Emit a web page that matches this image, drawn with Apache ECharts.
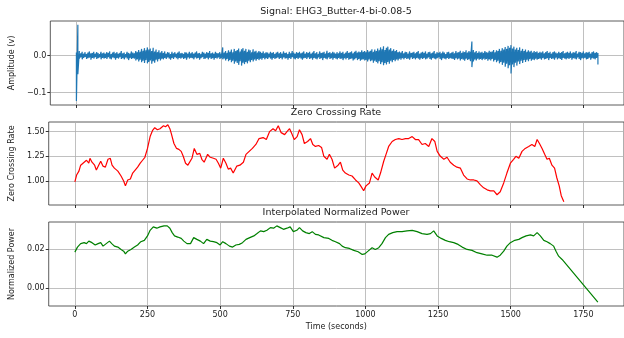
<!DOCTYPE html>
<html>
<head>
<meta charset="utf-8">
<script src="https://cdn.jsdelivr.net/npm/echarts@6/dist/echarts.min.js"></script>
<style>
  html, body { margin: 0; padding: 0; background: #fff; }
  #chart { width: 624px; height: 338px; }
</style>
</head>
<body>
<div id="chart"></div>
<script>
// signal envelope, one bin every 5 s, in millivolts (max and min of each bin)
const signalStep = 5;
const signalHigh = [
  8, 83, 12, 6, 10, 5, 9, 4, 8, 11, 6, 7, 10, 5, 9, 7, 4, 10, 6, 8,
  5, 9, 7, 11, 4, 8, 10, 6, 9, 5, 7, 12, 6, 8, 4, 10, 7, 5, 11, 8,
  6, 12, 9, 15, 10, 18, 13, 20, 14, 22, 16, 19, 12, 21, 11, 16, 9, 14, 8, 12,
  7, 11, 5, 9, 8, 4, 10, 6, 9, 5, 8, 11, 6, 7, 4, 9, 8, 5, 10, 6,
  9, 5, 8, 11, 6, 7, 4, 10, 8, 5, 9, 7, 12, 6, 8, 5, 10, 7, 6, 9,
  5, 22, 8, 12, 7, 14, 10, 16, 9, 18, 12, 15, 19, 11, 17, 20, 13, 18, 10, 16,
  14, 9, 17, 11, 13, 8, 12, 10, 7, 11, 6, 9, 8, 5, 10, 7, 9, 4, 8, 10,
  6, 9, 5, 11, 7, 8, 4, 10, 6, 12, 8, 5, 9, 7, 10, 6, 8, 11, 5, 9,
  7, 10, 5, 8, 12, 6, 9, 4, 11, 7, 8, 10, 5, 13, 7, 9, 6, 10, 8, 5,
  9, 6, 11, 7, 10, 5, 8, 12, 7, 9, 11, 6, 10, 13, 8, 11, 9, 14, 10, 12,
  9, 15, 11, 13, 17, 10, 16, 12, 19, 14, 22, 17, 25, 15, 21, 24, 16, 20, 13, 17,
  12, 15, 9, 11, 8, 12, 6, 10, 9, 5, 11, 7, 8, 10, 6, 9, 12, 5, 8, 10,
  7, 11, 5, 9, 10, 6, 8, 12, 5, 9, 7, 10, 6, 11, 8, 4, 9, 10, 6, 8,
  10, 6, 12, 8, 9, 13, 7, 11, 9, 14, 8, 12, 10, 38, 15, 9, 12, 7, 11, 8,
  10, 7, 12, 9, 8, 13, 10, 11, 15, 9, 14, 12, 18, 13, 20, 16, 23, 18, 26, 21,
  28, 19, 24, 16, 21, 15, 22, 13, 18, 12, 16, 10, 14, 11, 13, 8, 12, 9, 11, 7,
  10, 8, 11, 6, 9, 12, 7, 10, 5, 9, 11, 8, 6, 10, 7, 9, 12, 6, 8, 10,
  7, 11, 6, 9, 8, 12, 5, 10, 9, 7, 11, 6, 9, 8, 10, 5, 9, 11, 7, 9,
  7
];
const signalLow = [
  -122, -50, -8, -5, -10, -6, -4, -9, -7, -5, -11, -6, -8, -4, -9, -7, -5, -10, -6, -8,
  -6, -9, -4, -8, -10, -5, -7, -11, -6, -8, -4, -9, -7, -10, -5, -8, -12, -6, -9, -7,
  -8, -13, -10, -16, -11, -18, -14, -20, -12, -21, -17, -13, -22, -15, -19, -11, -16, -9, -13, -8,
  -10, -6, -9, -5, -8, -11, -6, -9, -4, -7, -10, -6, -8, -5, -9, -7, -11, -5, -8, -6,
  -7, -10, -5, -8, -6, -11, -7, -4, -9, -8, -6, -10, -5, -9, -7, -11, -6, -8, -5, -9,
  -7, -10, -8, -13, -9, -15, -12, -18, -14, -22, -16, -20, -25, -15, -27, -19, -23, -17, -21, -14,
  -18, -12, -16, -10, -14, -9, -12, -8, -11, -6, -10, -7, -9, -5, -8, -11, -6, -9, -7, -5,
  -9, -6, -10, -5, -8, -7, -11, -6, -9, -4, -8, -10, -6, -9, -5, -8, -11, -7, -6, -9,
  -5, -9, -7, -11, -6, -8, -10, -5, -9, -7, -12, -6, -8, -10, -5, -9, -7, -11, -6, -8,
  -10, -6, -9, -8, -12, -7, -10, -6, -11, -9, -8, -13, -10, -7, -12, -9, -14, -11, -10, -13,
  -12, -16, -10, -15, -13, -19, -14, -17, -21, -15, -23, -18, -26, -20, -24, -17, -22, -14, -18, -12,
  -15, -10, -13, -8, -11, -7, -10, -6, -9, -8, -11, -5, -9, -7, -10, -6, -8, -11, -7, -9,
  -6, -10, -8, -5, -9, -11, -6, -8, -10, -7, -5, -9, -12, -7, -8, -10, -6, -9, -7, -8,
  -9, -12, -7, -10, -8, -13, -9, -11, -14, -8, -12, -10, -15, -31, -16, -10, -13, -8, -11, -9,
  -12, -8, -11, -9, -14, -10, -13, -9, -16, -12, -18, -14, -21, -17, -25, -19, -30, -22, -34, -26,
  -48, -24, -31, -19, -27, -16, -23, -14, -20, -12, -17, -11, -15, -9, -14, -10, -12, -8, -11, -9,
  -8, -11, -6, -10, -9, -7, -12, -6, -9, -8, -11, -5, -10, -7, -9, -12, -6, -8, -10, -7,
  -9, -6, -11, -7, -8, -10, -5, -9, -12, -7, -8, -6, -10, -9, -5, -11, -7, -8, -10, -6,
  -24
];

const zcrTime = [
  0, 6, 14, 20, 28, 34, 40, 48, 52, 59, 68, 74, 82, 89, 97, 105, 114, 122, 128, 136,
  148, 159, 168, 174, 182, 191, 199, 205, 216, 225, 233, 241, 250, 259, 267, 275, 284, 293, 305, 312,
  320, 327, 332, 341, 350, 358, 366, 373, 381, 389, 395, 403, 411, 420, 430, 437, 445, 457, 466, 477,
  486, 494, 502, 511, 520, 528, 536, 545, 557, 568, 580, 589, 600, 611, 623, 634, 648, 659, 670, 682,
  691, 700, 710, 722, 730, 739, 748, 755, 765, 773, 782, 790, 801, 811, 819, 828, 839, 849, 857, 868,
  876, 885, 894, 906, 914, 922, 931, 943, 954, 966, 977, 986, 994, 1002, 1014, 1023, 1032, 1044, 1052, 1063,
  1071, 1080, 1092, 1103, 1115, 1126, 1138, 1149, 1161, 1172, 1183, 1195, 1206, 1218, 1229, 1239, 1247, 1258, 1270, 1281,
  1292, 1304, 1315, 1327, 1338, 1350, 1361, 1373, 1384, 1396, 1407, 1419, 1430, 1442, 1453, 1464, 1476, 1487, 1499, 1510,
  1518, 1528, 1539, 1550, 1562, 1573, 1583, 1591, 1599, 1608, 1617, 1625, 1633, 1642, 1651, 1659, 1667, 1674, 1683
];
const zcrValues = [
  0.99, 1.06, 1.10, 1.16, 1.18, 1.16, 1.21, 1.18, 1.23, 1.19, 1.16, 1.11, 1.16, 1.20, 1.15, 1.14, 1.22, 1.23, 1.16, 1.13,
  1.10, 1.05, 1.00, 0.95, 1.01, 1.02, 1.08, 1.06, 1.14, 1.18, 1.21, 1.24, 1.33, 1.45, 1.51, 1.54, 1.52, 1.53, 1.56, 1.55,
  1.57, 1.53, 1.48, 1.38, 1.33, 1.32, 1.30, 1.25, 1.18, 1.16, 1.15, 1.23, 1.33, 1.27, 1.28, 1.22, 1.19, 1.27, 1.24, 1.23,
  1.22, 1.18, 1.13, 1.23, 1.18, 1.12, 1.13, 1.08, 1.15, 1.16, 1.19, 1.27, 1.30, 1.33, 1.37, 1.43, 1.44, 1.42, 1.50, 1.53,
  1.51, 1.56, 1.49, 1.47, 1.50, 1.53, 1.47, 1.42, 1.45, 1.52, 1.47, 1.38, 1.40, 1.43, 1.37, 1.35, 1.36, 1.34, 1.25, 1.22,
  1.27, 1.22, 1.13, 1.16, 1.19, 1.11, 1.08, 1.06, 1.05, 1.01, 0.98, 0.94, 0.90, 0.95, 0.98, 1.08, 1.04, 1.01, 1.08, 1.20,
  1.27, 1.35, 1.40, 1.42, 1.43, 1.42, 1.43, 1.43, 1.45, 1.42, 1.42, 1.37, 1.38, 1.35, 1.43, 1.40, 1.30, 1.25, 1.22, 1.24,
  1.19, 1.16, 1.14, 1.13, 1.06, 1.02, 1.01, 1.01, 1.00, 0.96, 0.93, 0.91, 0.90, 0.90, 0.86, 0.89, 0.98, 1.08, 1.18, 1.22,
  1.25, 1.23, 1.30, 1.33, 1.35, 1.37, 1.35, 1.42, 1.38, 1.33, 1.27, 1.22, 1.23, 1.16, 1.13, 1.03, 0.95, 0.85, 0.79
];

const powerTime = [
  0, 9, 20, 32, 40, 48, 59, 70, 80, 89, 97, 108, 119, 127, 136, 148, 159, 168, 174, 182,
  193, 205, 216, 227, 239, 250, 259, 270, 282, 293, 307, 318, 327, 335, 343, 354, 366, 375, 386, 398,
  409, 420, 432, 443, 454, 466, 477, 489, 500, 509, 520, 532, 543, 554, 566, 577, 589, 602, 616, 627,
  639, 650, 661, 673, 684, 695, 707, 718, 730, 741, 752, 764, 773, 784, 795, 807, 817, 828, 839, 857,
  874, 885, 897, 911, 920, 931, 945, 960, 975, 989, 998, 1009, 1023, 1034, 1046, 1057, 1069, 1080, 1094, 1109,
  1126, 1143, 1161, 1178, 1195, 1212, 1224, 1235, 1247, 1261, 1275, 1289, 1304, 1319, 1333, 1350, 1367, 1384, 1401, 1419,
  1436, 1453, 1464, 1476, 1487, 1499, 1514, 1528, 1539, 1553, 1568, 1579, 1591, 1602, 1614, 1625, 1636, 1648, 1656, 1665,
  1677, 1800
];
const powerValues = [
  0.0186, 0.0212, 0.0230, 0.0235, 0.0230, 0.0243, 0.0235, 0.0223, 0.0230, 0.0235, 0.0217, 0.0230, 0.0243, 0.0230, 0.0217, 0.0212, 0.0200, 0.0191, 0.0177, 0.0191,
  0.0200, 0.0212, 0.0223, 0.0240, 0.0247, 0.0270, 0.0299, 0.0317, 0.0310, 0.0317, 0.0322, 0.0322, 0.0310, 0.0287, 0.0270, 0.0264, 0.0257, 0.0243, 0.0230, 0.0230,
  0.0261, 0.0252, 0.0243, 0.0230, 0.0252, 0.0243, 0.0240, 0.0235, 0.0223, 0.0240, 0.0230, 0.0217, 0.0212, 0.0223, 0.0226, 0.0235, 0.0252, 0.0261, 0.0270, 0.0282,
  0.0296, 0.0292, 0.0299, 0.0313, 0.0310, 0.0322, 0.0313, 0.0304, 0.0310, 0.0317, 0.0292, 0.0299, 0.0313, 0.0296, 0.0287, 0.0282, 0.0292, 0.0278, 0.0275, 0.0261,
  0.0257, 0.0247, 0.0240, 0.0230, 0.0217, 0.0209, 0.0205, 0.0195, 0.0188, 0.0174, 0.0177, 0.0191, 0.0209, 0.0200, 0.0209, 0.0230, 0.0261, 0.0278, 0.0287, 0.0292,
  0.0292, 0.0296, 0.0299, 0.0292, 0.0282, 0.0278, 0.0282, 0.0296, 0.0270, 0.0257, 0.0247, 0.0240, 0.0235, 0.0226, 0.0212, 0.0200, 0.0195, 0.0183, 0.0177, 0.0170,
  0.0170, 0.0160, 0.0170, 0.0191, 0.0217, 0.0235, 0.0247, 0.0252, 0.0261, 0.0270, 0.0275, 0.0270, 0.0287, 0.0270, 0.0247, 0.0240, 0.0230, 0.0217, 0.0191, 0.0165,
  0.0148, -0.0073
];

const timeTicks = [0, 250, 500, 750, 1000, 1250, 1500, 1750];
const amplitudeTicks = [-0.1, 0.0];
const zcrTicks = [1.00, 1.25, 1.50];
const powerTicks = [0.00, 0.02];

const font = 'DejaVu Sans';
const textColor = '#222';
const gridColor = '#b0b0b0';

const minus = (s) => s.replace('-', '\u2212');

function xAxis(gridIndex, showLabels) {
  return {
    type: 'value',
    gridIndex,
    min: -90,
    max: 1890,
    name: showLabels ? 'Time (seconds)' : '',
    nameLocation: 'middle',
    nameGap: 17,
    nameTextStyle: { fontFamily: font, fontSize: 8, color: textColor },
    axisLine: { show: false, onZero: false },
    axisTick: { show: true, length: 3, lineStyle: { color: '#000', width: 0.8 }, customValues: timeTicks },
    axisLabel: {
      show: showLabels, customValues: timeTicks, margin: 5,
      fontFamily: font, fontSize: 8, color: textColor,
      formatter: (v) => String(v)
    },
    splitLine: { show: true, lineStyle: { color: gridColor, width: 0.8 } }
  };
}

function yAxis(gridIndex, name, min, max, ticks, digits) {
  return {
    type: 'value',
    gridIndex,
    min,
    max,
    name,
    nameLocation: 'middle',
    nameGap: 29,
    nameTextStyle: { fontFamily: font, fontSize: 8, color: textColor },
    axisLine: { show: false, onZero: false },
    axisTick: { show: true, length: 3, lineStyle: { color: '#000', width: 0.8 }, customValues: ticks },
    axisLabel: {
      customValues: ticks, margin: 4,
      fontFamily: font, fontSize: 8, color: textColor,
      formatter: (v) => minus(v.toFixed(digits))
    },
    splitLine: { show: true, lineStyle: { color: gridColor, width: 0.8 } }
  };
}

const grids = [
  { left: 47, top: 21, width: 579, height: 84 },
  { left: 47, top: 122, width: 579, height: 83 },
  { left: 47, top: 222, width: 579, height: 84 }
].map((g) => Object.assign({ show: true, borderColor: '#333', borderWidth: 0.8, backgroundColor: 'transparent' }, g));

const titleStyle = { fontFamily: font, fontSize: 9.5, fontWeight: 'normal', color: textColor };

// each bin becomes a vertical stroke from its max to its min
const signalData = signalHigh.flatMap((h, i) => [
  [i * signalStep, h / 1000],
  [i * signalStep, signalLow[i] / 1000]
]);

const option = {
  animation: false,
  backgroundColor: '#fff',
  title: [
    { text: 'Signal: EHG3_Butter-4-bi-0.08-5', left: 336, top: 7, textAlign: 'center', padding: 0, textStyle: titleStyle },
    { text: 'Zero Crossing Rate', left: 336, top: 108, textAlign: 'center', padding: 0, textStyle: titleStyle },
    { text: 'Interpolated Normalized Power', left: 336, top: 208, textAlign: 'center', padding: 0, textStyle: titleStyle }
  ],
  grid: grids,
  xAxis: [xAxis(0, false), xAxis(1, false), xAxis(2, true)],
  yAxis: [
    yAxis(0, 'Amplitude (v)', -0.133, 0.093, amplitudeTicks, 1),
    yAxis(1, 'Zero Crossing Rate', 0.756, 1.598, zcrTicks, 2),
    yAxis(2, 'Normalized Power', -0.0093, 0.0342, powerTicks, 2)
  ],
  series: [
    {
      type: 'line', xAxisIndex: 0, yAxisIndex: 0,
      data: signalData,
      showSymbol: false, sampling: 'none',
      lineStyle: { color: '#1f77b4', width: 1.2 }
    },
    {
      type: 'line', xAxisIndex: 1, yAxisIndex: 1,
      data: zcrTime.map((t, i) => [t, zcrValues[i]]),
      showSymbol: false,
      lineStyle: { color: '#ff0000', width: 1.2 }
    },
    {
      type: 'line', xAxisIndex: 2, yAxisIndex: 2,
      data: powerTime.map((t, i) => [t, powerValues[i]]),
      showSymbol: false,
      lineStyle: { color: '#008000', width: 1.2 }
    }
  ]
};

const chart = echarts.init(document.getElementById('chart'), null, { renderer: 'canvas' });
chart.setOption(option);
</script>
</body>
</html>
